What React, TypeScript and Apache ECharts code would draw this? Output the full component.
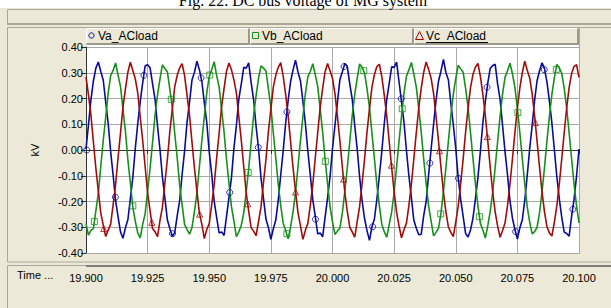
import React, { useEffect, useRef } from "react";
import * as echarts from "echarts";

const TITLE = "Fig. 22. DC bus voltage of MG system";
const SERIES_NAMES = ["Va_ACload", "Vb_ACload", "Vc_ACload"];
const COLORS = ["#0A0A9A", "#16901A", "#A00C0C"];
const X_MIN = 19.9;
const X_MAX = 20.1;
const X_STEP = 0.025;
const Y_MIN = -0.4;
const Y_MAX = 0.4;
const Y_STEP = 0.1;
const TIME_START = 19.9;
const TIME_STEP = 0.001;

// sampled every 1 ms (kV)
const VA = [
  0.004, 0.097, 0.195, 0.268, 0.318, 0.342, 0.305, 0.271, 0.186, 0.104, -0.006, -0.097, -0.196, -0.259, -0.318, -0.343, -0.302, -0.270, -0.188, -0.106,
  0.007, 0.103, 0.188, 0.262, 0.327, 0.331, 0.319, 0.258, 0.197, 0.095, 0.003, -0.105, -0.186, -0.271, -0.305, -0.335, -0.321, -0.256, -0.196, -0.094,
  -0.004, 0.108, 0.186, 0.272, 0.302, 0.345, 0.312, 0.266, 0.184, 0.106, -0.008, -0.094, -0.199, -0.262, -0.322, -0.318, -0.332, -0.259, -0.185, -0.108,
  0.006, 0.094, 0.198, 0.257, 0.321, 0.318, 0.338, 0.262, 0.195, 0.092, 0.005, -0.109, -0.188, -0.268, -0.301, -0.347, -0.306, -0.272, -0.194, -0.097,
  -0.003, 0.105, 0.192, 0.266, 0.311, 0.349, 0.303, 0.269, 0.189, 0.103, -0.004, -0.098, -0.193, -0.257, -0.326, -0.322, -0.337, -0.261, -0.186, -0.104,
  0.005, 0.096, 0.185, 0.273, 0.304, 0.336, 0.324, 0.257, 0.198, 0.097, 0.006, -0.104, -0.197, -0.266, -0.313, -0.351, -0.298, -0.268, -0.192, -0.101,
  -0.006, 0.102, 0.196, 0.259, 0.323, 0.321, 0.341, 0.265, 0.187, 0.108, -0.003, -0.101, -0.184, -0.273, -0.304, -0.329, -0.327, -0.255, -0.199, -0.095,
  0.003, 0.099, 0.193, 0.267, 0.306, 0.352, 0.301, 0.273, 0.183, 0.099, 0.007, -0.108, -0.192, -0.258, -0.324, -0.338, -0.311, -0.264, -0.187, -0.107,
  -0.005, 0.106, 0.187, 0.261, 0.317, 0.328, 0.333, 0.256, 0.196, 0.094, -0.007, -0.096, -0.198, -0.265, -0.309, -0.346, -0.303, -0.271, -0.195, -0.099,
  0.006, 0.095, 0.194, 0.270, 0.308, 0.339, 0.316, 0.264, 0.190, 0.105, 0.002, -0.103, -0.189, -0.261, -0.319, -0.324, -0.335, -0.258, -0.191, -0.102,
  0.004,
];
const VB = [
  -0.286, -0.331, -0.312, -0.305, -0.236, -0.168, -0.063, 0.038, 0.127, 0.221, 0.289, 0.309, 0.338, 0.291, 0.246, 0.158, 0.072, -0.039, -0.128, -0.222,
  -0.277, -0.322, -0.341, -0.289, -0.247, -0.159, -0.071, 0.029, 0.136, 0.213, 0.275, 0.331, 0.316, 0.304, 0.236, 0.167, 0.064, -0.030, -0.137, -0.213,
  -0.290, -0.309, -0.327, -0.301, -0.238, -0.166, -0.065, 0.037, 0.129, 0.223, 0.286, 0.312, 0.343, 0.289, 0.245, 0.160, 0.071, -0.037, -0.129, -0.220,
  -0.275, -0.336, -0.318, -0.292, -0.244, -0.161, -0.072, 0.031, 0.135, 0.211, 0.279, 0.327, 0.318, 0.307, 0.237, 0.166, 0.065, -0.032, -0.134, -0.215,
  -0.284, -0.313, -0.345, -0.299, -0.239, -0.167, -0.064, 0.036, 0.130, 0.219, 0.284, 0.306, 0.335, 0.293, 0.247, 0.159, 0.070, -0.036, -0.131, -0.219,
  -0.279, -0.328, -0.315, -0.303, -0.243, -0.160, -0.069, 0.032, 0.134, 0.214, 0.277, 0.334, 0.321, 0.299, 0.238, 0.165, 0.066, -0.033, -0.135, -0.216,
  -0.288, -0.317, -0.339, -0.290, -0.240, -0.165, -0.066, 0.035, 0.131, 0.220, 0.287, 0.311, 0.340, 0.295, 0.244, 0.161, 0.069, -0.035, -0.130, -0.218,
  -0.276, -0.333, -0.320, -0.304, -0.245, -0.162, -0.070, 0.033, 0.133, 0.215, 0.278, 0.329, 0.315, 0.302, 0.239, 0.164, 0.067, -0.034, -0.133, -0.217,
  -0.285, -0.311, -0.342, -0.294, -0.237, -0.164, -0.067, 0.034, 0.132, 0.218, 0.283, 0.308, 0.337, 0.296, 0.243, 0.162, 0.068, -0.033, -0.132, -0.221,
  -0.280, -0.326, -0.317, -0.300, -0.242, -0.163, -0.068, 0.035, 0.131, 0.216, 0.280, 0.332, 0.319, 0.298, 0.240, 0.163, 0.067, -0.034, -0.133, -0.216,
  -0.283,
];
const VC = [
  0.284, 0.214, 0.136, 0.031, -0.071, -0.159, -0.245, -0.292, -0.336, -0.311, -0.288, -0.213, -0.135, -0.030, 0.066, 0.166, 0.237, 0.303, 0.341, 0.309,
  0.276, 0.221, 0.128, 0.037, -0.065, -0.167, -0.236, -0.305, -0.317, -0.337, -0.274, -0.222, -0.128, -0.038, 0.071, 0.158, 0.246, 0.290, 0.319, 0.335,
  0.289, 0.212, 0.135, 0.030, -0.070, -0.160, -0.244, -0.289, -0.344, -0.309, -0.286, -0.211, -0.136, -0.031, 0.065, 0.167, 0.238, 0.306, 0.338, 0.312,
  0.273, 0.222, 0.129, 0.038, -0.066, -0.166, -0.237, -0.302, -0.315, -0.333, -0.277, -0.221, -0.127, -0.037, 0.072, 0.159, 0.245, 0.291, 0.321, 0.339,
  0.287, 0.215, 0.134, 0.032, -0.069, -0.161, -0.243, -0.294, -0.347, -0.312, -0.285, -0.214, -0.134, -0.032, 0.067, 0.165, 0.239, 0.304, 0.336, 0.308,
  0.278, 0.219, 0.130, 0.036, -0.067, -0.165, -0.238, -0.300, -0.318, -0.339, -0.279, -0.219, -0.130, -0.036, 0.069, 0.161, 0.244, 0.293, 0.324, 0.333,
  0.285, 0.213, 0.133, 0.033, -0.068, -0.162, -0.242, -0.295, -0.341, -0.310, -0.284, -0.215, -0.133, -0.033, 0.068, 0.164, 0.240, 0.302, 0.342, 0.313,
  0.279, 0.220, 0.131, 0.035, -0.067, -0.164, -0.239, -0.299, -0.320, -0.336, -0.280, -0.218, -0.131, -0.035, 0.070, 0.162, 0.243, 0.294, 0.322, 0.336,
  0.286, 0.216, 0.134, 0.034, -0.069, -0.163, -0.241, -0.296, -0.339, -0.313, -0.283, -0.216, -0.132, -0.034, 0.067, 0.163, 0.241, 0.300, 0.345, 0.310,
  0.280, 0.218, 0.132, 0.033, -0.068, -0.163, -0.240, -0.298, -0.322, -0.334, -0.281, -0.217, -0.133, -0.034, 0.068, 0.163, 0.242, 0.297, 0.325, 0.331,
  0.282,
];

// marker positions (time s, value kV)
const VA_MARK_T = [19.9003, 19.9119, 19.9235, 19.9351, 19.9467, 19.9583, 19.9699, 19.9815, 19.9931, 20.0047, 20.0163, 20.0279, 20.0395, 20.0511, 20.0627, 20.0743, 20.0859, 20.0975];
const VA_MARK_V = [0.0, -0.183, 0.29, -0.325, 0.28, -0.165, 0.01, 0.148, -0.269, 0.324, -0.298, 0.199, -0.051, -0.11, 0.244, -0.317, 0.312, -0.23];
const VB_MARK_T = [19.9034, 19.919, 19.9346, 19.9502, 19.9658, 19.9815, 19.9971, 20.0127, 20.0283, 20.0439, 20.0596, 20.0752, 20.0908];
const VB_MARK_V = [-0.278, -0.217, 0.197, 0.291, -0.087, -0.325, -0.044, 0.308, 0.16, -0.248, -0.259, 0.145, 0.313];
const VC_MARK_T = [19.9072, 19.9267, 19.9461, 19.9656, 19.985, 20.0045, 20.0239, 20.0434, 20.0628, 20.0823];
const VC_MARK_V = [-0.305, -0.281, -0.249, -0.209, -0.163, -0.113, -0.059, -0.003, 0.052, 0.106];

const BEIGE = "#ECE9D8";
const BORDER = "#ACA899";
const FONT = "Liberation Sans, Arial, sans-serif";

export default function App() {
  const ref = useRef<HTMLDivElement>(null);
  useEffect(() => {
    if (!ref.current) return;
    const chart = echarts.init(ref.current, undefined, { renderer: "svg" });
    const time = VA.map((_, i) => Number((TIME_START + i * TIME_STEP).toFixed(4)));
    const vals = [VA, VB, VC];
    const markT = [VA_MARK_T, VB_MARK_T, VC_MARK_T];
    const markV = [VA_MARK_V, VB_MARK_V, VC_MARK_V];
    const symbols = ["circle", "rect", "triangle"];

    const lineSeries = vals.map((v, s) => ({
      type: "line",
      name: SERIES_NAMES[s],
      data: v.map((y, i) => [time[i], y]),
      showSymbol: false,
      symbol: "none",
      lineStyle: { color: COLORS[s], width: 1.6 },
      z: 3,
      silent: true,
      ...(s === 0
        ? {
            markLine: {
              silent: true,
              symbol: "none",
              label: { show: false },
              lineStyle: { color: "#333", width: 1, type: "solid" },
              data: [{ yAxis: 0 }],
              z: 2,
            },
          }
        : {}),
    }));
    const markerSeries = markT.map((ts, s) => ({
      type: "scatter",
      name: SERIES_NAMES[s] + "_m",
      data: ts.map((t, i) => [t, markV[s][i]]),
      symbol: symbols[s],
      symbolSize: s === 0 ? 6 : 6,
      itemStyle: { color: "rgba(255,255,255,0)", borderColor: COLORS[s], borderWidth: 1 },
      z: 4,
      silent: true,
    }));

    const legendX = [86, 250, 414];
    const legendW = [164, 164, 165];
    const legendEls: any[] = [];
    legendX.forEach((x, i) => {
      legendEls.push({
        type: "rect",
        shape: { x: x + 0.5, y: 28.5, width: legendW[i] - 1, height: 15.5 },
        style: { fill: BEIGE, stroke: "#FFFFFF", lineWidth: 1 },
        z: 1,
      });
      legendEls.push({
        type: "polyline",
        shape: { points: [[x + 0.5, 44], [x + legendW[i] - 1, 44], [x + legendW[i] - 1, 28.5]] },
        style: { stroke: "#9D9A8A", lineWidth: 2, fill: null },
        z: 1,
      });
      const tx = x + 12;
      legendEls.push({
        type: "text",
        x: tx,
        y: 36,
        style: { text: SERIES_NAMES[i], font: `12px ${FONT}`, fill: "#000", verticalAlign: "middle", align: "left" },
        z: 2,
      });
    });
    legendEls.push({ type: "circle", shape: { cx: 91.5, cy: 35.5, r: 2.6 }, style: { fill: null, stroke: COLORS[0], lineWidth: 1 }, z: 2 });
    legendEls.push({ type: "rect", shape: { x: 252.5, y: 32.5, width: 6, height: 6 }, style: { fill: null, stroke: COLORS[1], lineWidth: 1 }, z: 2 });
    legendEls.push({ type: "polygon", shape: { points: [[419.5, 31.5], [423.5, 39.5], [415.5, 39.5]] }, style: { fill: null, stroke: COLORS[2], lineWidth: 1 }, z: 2 });
    legendEls.push({ type: "line", shape: { x1: 426, y1: 42.5, x2: 488, y2: 42.5 }, style: { stroke: "#000", lineWidth: 1 }, z: 2 });

    const option: any = {
      animation: false,
      backgroundColor: BEIGE,
      grid: { left: 86, right: 32, top: 47, bottom: 55, containLabel: false },
      xAxis: {
        type: "value",
        min: X_MIN,
        max: X_MAX,
        interval: X_STEP,
        offset: 13,
        axisLine: { show: false },
        axisTick: { show: true, length: 4, lineStyle: { color: "#333" } },
        axisLabel: { formatter: (v: number) => v.toFixed(3), fontSize: 11, color: "#000", margin: 6, fontFamily: FONT },
        splitLine: { show: true, lineStyle: { color: "#A8A8A8", width: 1 } },
      },
      yAxis: {
        type: "value",
        min: Y_MIN,
        max: Y_MAX,
        interval: Y_STEP,
        axisLine: { show: true, onZero: false, lineStyle: { color: "#333" } },
        axisTick: { show: true, length: 5, lineStyle: { color: "#333" } },
        axisLabel: { formatter: (v: number) => v.toFixed(2), fontSize: 11, color: "#000", margin: 3, fontFamily: FONT },
        splitLine: { show: true, lineStyle: { color: "#A8A8A8", width: 1 } },
      },
      graphic: [
        { type: "rect", shape: { x: 0, y: 0, width: 611, height: 8 }, style: { fill: "#FFFFFF" }, z: -5 },
        {
          type: "text",
          x: 303,
          y: 0,
          style: { text: TITLE, font: "16px 'Liberation Serif', 'Times New Roman', serif", fill: "#000", align: "center", verticalAlign: "middle" },
          z: -4,
        },
        { type: "rect", shape: { x: 7.5, y: 9.5, width: 610, height: 14 }, style: { fill: BEIGE, stroke: BORDER, lineWidth: 1 }, z: -5 },
        { type: "rect", shape: { x: 7, y: 23, width: 604, height: 2 }, style: { fill: BORDER }, z: -5 },
        { type: "rect", shape: { x: 7.5, y: 27.5, width: 610, height: 234.5 }, style: { fill: BEIGE, stroke: BORDER, lineWidth: 1 }, z: -5 },
        { type: "rect", shape: { x: 7.5, y: 265.5, width: 610, height: 50 }, style: { fill: BEIGE, stroke: BORDER, lineWidth: 1 }, z: -5 },
        { type: "rect", shape: { x: 86, y: 45, width: 493, height: 208 }, style: { fill: "#FFFFFF" }, z: -4 },
        { type: "line", shape: { x1: 579.5, y1: 28, x2: 579.5, y2: 254 }, style: { stroke: BORDER, lineWidth: 1 }, z: -3 },
        { type: "line", shape: { x1: 86, y1: 253.5, x2: 580, y2: 253.5 }, style: { stroke: BORDER, lineWidth: 1 }, z: -3 },
        { type: "rect", shape: { x: 86, y: 265, width: 525, height: 2 }, style: { fill: "#7E7E7E" }, z: -3 },
        {
          type: "text",
          x: 35,
          y: 150,
          rotation: Math.PI / 2,
          style: { text: "kV", font: `11px ${FONT}`, fill: "#000", align: "center", verticalAlign: "middle" },
          z: 1,
        },
        {
          type: "text",
          x: 17,
          y: 275,
          style: { text: "Time ...", font: `11px ${FONT}`, fill: "#000", align: "left", verticalAlign: "middle" },
          z: 1,
        },
        ...legendEls,
      ],
      series: [...lineSeries, ...markerSeries],
    };
    chart.setOption(option);
    return () => chart.dispose();
  }, []);
  return <div ref={ref} style={{ position: "absolute", left: 0, top: 0, width: 611, height: 308 }} />;
}
